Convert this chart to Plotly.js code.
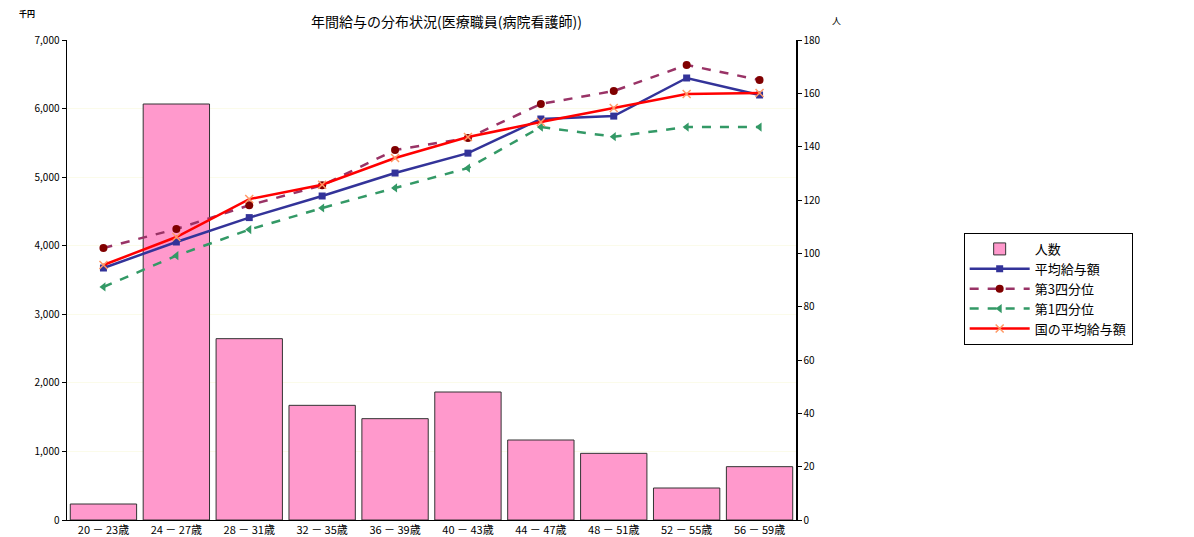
<!DOCTYPE html>
<html>
<head>
<meta charset="utf-8">
<script src="https://cdn.plot.ly/plotly-3.0.1.min.js"></script>
<style>html,body{margin:0;padding:0;background:#fff;}#chart{width:1194px;height:537px;}</style>
</head>
<body>
<div id="chart"></div>
<script>
const categories = ["20 － 23歳","24 － 27歳","28 － 31歳","32 － 35歳","36 － 39歳","40 － 43歳","44 － 47歳","48 － 51歳","52 － 55歳","56 － 59歳"];
const headcount = [6, 156, 68, 43, 38, 48, 30, 25, 12, 20];
const avgSalary = [3675, 4054, 4410, 4725, 5060, 5350, 5848, 5890, 6446, 6198];
const q3Salary = [3967, 4244, 4590, 4880, 5396, 5571, 6067, 6256, 6636, 6417];
const q1Salary = [3398, 3855, 4235, 4550, 4842, 5133, 5731, 5590, 5731, 5731];
const nationalAvg = [3719, 4127, 4680, 4890, 5279, 5585, 5804, 6008, 6212, 6227];

const font = "'Noto Sans CJK JP', 'Noto Sans', sans-serif";

const traces = [
  {type:'bar', name:'人数', x:categories, y:headcount, yaxis:'y',
   marker:{color:'#FF99CC', line:{color:'#333333', width:1}}},
  {type:'scatter', mode:'lines+markers', name:'平均給与額', x:categories, y:avgSalary, yaxis:'y2',
   line:{color:'#333399', width:2.5}, marker:{symbol:'square', size:7, color:'#333399'}},
  {type:'scatter', mode:'lines+markers', name:'第3四分位', x:categories, y:q3Salary, yaxis:'y2',
   line:{color:'#993366', width:2.5, dash:'dash'}, marker:{symbol:'circle', size:8, color:'#800000'}},
  {type:'scatter', mode:'lines+markers', name:'第1四分位', x:categories, y:q1Salary, yaxis:'y2',
   line:{color:'#339966', width:2.5, dash:'dash'}, marker:{symbol:'triangle-left', size:8, color:'#339966'}},
  {type:'scatter', mode:'lines+markers', name:'国の平均給与額', x:categories, y:nationalAvg, yaxis:'y2',
   line:{color:'#FF0000', width:2.5}, marker:{symbol:'x-thin', size:8, color:'#FF9966', line:{color:'#FF9966', width:1.5}}}
];

const layout = {
  width:1194, height:537,
  margin:{l:67, r:398, t:40, b:17},
  paper_bgcolor:'#ffffff', plot_bgcolor:'#ffffff',
  font:{family:font, size:11, color:'#000'},
  title:{text:'年間給与の分布状況(医療職員(病院看護師))', font:{family:font, size:14, color:'#000'},
         xref:'container', x:0.374, xanchor:'center', yref:'container', y:0.958, yanchor:'middle'},
  bargap:0.09,
  showlegend:true,
  legend:{x:1.23, xanchor:'left', y:0.598, yanchor:'top', bgcolor:'#fff', bordercolor:'#000', borderwidth:1,
          font:{family:font, size:13, color:'#000'}, tracegroupgap:0, itemwidth:60},
  xaxis:{type:'category', range:[-0.5, 9.5], autorange:false, showline:true, linecolor:'#000', linewidth:1, ticks:'', showgrid:false,
         tickfont:{family:font, size:11, color:'#000'}, automargin:false},
  yaxis:{side:'right', range:[0,180], dtick:20, showline:true, linecolor:'#000', linewidth:1.5,
         ticks:'outside', ticklen:4, tickcolor:'#000', showgrid:false, zeroline:false,
         tickfont:{family:font, size:10, color:'#000'}, automargin:false},
  yaxis2:{side:'left', overlaying:'y', range:[0,7000], dtick:1000, tickformat:',d', showline:true,
          linecolor:'#000', linewidth:1.5, ticks:'outside', ticklen:4, tickcolor:'#000',
          showgrid:true, gridcolor:'#fbfbea', zeroline:false,
          tickfont:{family:font, size:10, color:'#000'}, automargin:false},
  annotations:[
    {text:'<b>千円</b>', xref:'paper', yref:'paper', x:-0.068, y:1.055, xanchor:'left', yanchor:'middle',
     showarrow:false, font:{family:font, size:8, color:'#000'}},
    {text:'人', xref:'paper', yref:'paper', x:1.055, y:1.04, xanchor:'center', yanchor:'middle',
     showarrow:false, font:{family:font, size:9, color:'#000'}}
  ]
};

Plotly.newPlot('chart', traces, layout, {displayModeBar:false, staticPlot:true});
</script>
</body>
</html>
